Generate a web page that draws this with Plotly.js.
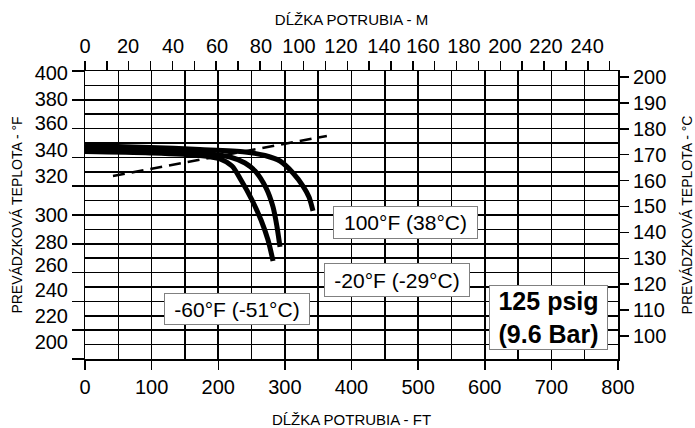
<!DOCTYPE html>
<html>
<head>
<meta charset="utf-8">
<script src="https://cdn.plot.ly/plotly-3.0.1.min.js"></script>
<style>html,body{margin:0;padding:0;background:#fff;}#chart{width:695px;height:428px;}</style>
</head>
<body>
<div id="chart"></div>
<script>
// ---- data (pipe length in ft, operating temperature in °F) ----
const curve100F_ft = [0, 97.6, 172.6, 240.2, 270.2, 292.7, 312.2, 327.2, 336.2, 342.2];
const curve100F_T  = [348.3, 346.9, 345.5, 343.8, 341.3, 337.5, 329.2, 320.1, 312.5, 302.8];
const curveM20F_ft = [0, 97.6, 172.6, 217.6, 240.2, 255.2, 271.7, 282.2, 288.2, 292.7];
const curveM20F_T  = [346.2, 344.8, 343.1, 340.3, 336.1, 330.6, 318.8, 305.6, 291.7, 277.8];
const curveM60F_ft = [0, 97.6, 172.6, 202.6, 220.6, 234.1, 250.7, 264.2, 274.7, 282.2];
const curveM60F_T  = [344.1, 343.1, 341.3, 338.9, 334.0, 324.3, 310.4, 296.5, 282.6, 268.1];
const dashed_ft = [42, 363];
const dashed_T  = [327.1, 354.9];

// ---- axes / tick labels ----
const ftGrid = [0, 50, 100, 150, 200, 250, 300, 350, 400, 450, 500, 550, 600, 650, 700, 750, 800];
const ftTicks = [0, 100, 200, 300, 400, 500, 600, 700, 800];
const fGrid = [200, 210, 220, 230, 240, 250, 260, 270, 280, 290, 300, 310, 320, 330, 340, 350, 360, 370, 380, 390, 400];
const fTicks = [200, 220, 240, 260, 280, 300, 320, 340, 360, 380, 400];
const fLabels = ['200', '220', '240', '260', '280', '300', '320', '340', '360', '380', '400'];
const fLabelPos = [211.8, 229.9, 247.6, 265.3, 281.25, 300, 327.1, 345.1, 363.9, 380.6, 398.6];
const cTicks = [100, 110, 120, 130, 140, 150, 160, 170, 180, 190, 200];
const mTicks = [0,10,20,30,40,50,60,70,80,90,100,110,120,130,140,150,160,170,180,190,200,210,220,230,240];
const mLabels = ['0','20','40','60','80','100','120','140','160','180','200','220','240'];
const mLabelPos = [0, 19.7, 40.3, 60.4, 80.5, 97.9, 117.1, 136.8, 154.6, 173.4, 192.1, 210.9, 229.7];

const curveLabels = ['100°F (38°C)', '-20°F (-29°C)', '-60°F (-51°C)'];
const pressureLabel = ['125 psig', '(9.6 Bar)'];

const FONT = 'Arial, "Liberation Sans", sans-serif';
const mLen = 800 / 3.28084;

const curveStyle = {color: 'black', width: 5, shape: 'spline', smoothing: 0.8};
const traces = [
  {x: curve100F_ft, y: curve100F_T, mode: 'lines', line: curveStyle, hoverinfo: 'skip'},
  {x: curveM20F_ft, y: curveM20F_T, mode: 'lines', line: curveStyle, hoverinfo: 'skip'},
  {x: curveM60F_ft, y: curveM60F_T, mode: 'lines', line: curveStyle, hoverinfo: 'skip'},
  {x: dashed_ft, y: dashed_T, mode: 'lines', line: {color: 'black', width: 2.5, dash: '12px,7px'}, hoverinfo: 'skip'},
  {x: [], y: [], xaxis: 'x2', yaxis: 'y', mode: 'lines', hoverinfo: 'skip'},
  {x: [], y: [], xaxis: 'x3', yaxis: 'y', mode: 'lines', hoverinfo: 'skip'},
  {x: [], y: [], xaxis: 'x4', yaxis: 'y', mode: 'lines', hoverinfo: 'skip'},
  {x: [], y: [], xaxis: 'x', yaxis: 'y2', mode: 'lines', hoverinfo: 'skip'},
  {x: [], y: [], xaxis: 'x', yaxis: 'y3', mode: 'lines', hoverinfo: 'skip'},
  {x: [], y: [], xaxis: 'x', yaxis: 'y4', mode: 'lines', hoverinfo: 'skip'}
];

const boxStyle = {showarrow: false, xref: 'x', yref: 'y', font: {family: FONT, size: 21, color: 'black'},
  bgcolor: 'white', bordercolor: '#808080', borderwidth: 1, borderpad: 1};

const plain = {showline: false, showgrid: false, zeroline: false, automargin: false};

const layout = {
  width: 695, height: 428,
  margin: {l: 85, r: 77, t: 71, b: 69, pad: 0},
  paper_bgcolor: 'white', plot_bgcolor: 'white',
  showlegend: false,
  font: {family: FONT, color: 'black', size: 20},
  // grid + frame
  xaxis: {
    range: [0, 800], tickmode: 'array', tickvals: ftGrid, showticklabels: false, ticks: '',
    showline: true, linecolor: 'black', linewidth: 1.5, mirror: true,
    showgrid: true, gridcolor: '#000000', gridwidth: 1.6, zeroline: false, automargin: false
  },
  yaxis: {
    range: [200, 400], tickmode: 'array', tickvals: fGrid, showticklabels: false, ticks: '',
    showline: true, linecolor: 'black', linewidth: 1.5, mirror: true,
    showgrid: true, gridcolor: '#000000', gridwidth: 1.6, zeroline: false, automargin: false
  },
  // bottom ft ticks and labels
  xaxis4: Object.assign({}, plain, {
    overlaying: 'x', side: 'bottom', anchor: 'y', range: [0, 800],
    tickmode: 'array', tickvals: ftTicks, ticktext: ftTicks.map(String),
    ticks: 'outside', ticklen: 10, tickwidth: 1.5, tickcolor: 'black', tickfont: {size: 20},
    title: {text: 'DĹŽKA POTRUBIA - FT', font: {size: 15}, standoff: 22}
  }),
  // left °F tick marks
  yaxis4: Object.assign({}, plain, {
    overlaying: 'y', side: 'left', anchor: 'x', range: [200, 400],
    tickmode: 'array', tickvals: fTicks, showticklabels: false,
    ticks: 'outside', ticklen: 12, tickwidth: 1.5, tickcolor: 'black'
  }),
  // left °F labels
  yaxis3: Object.assign({}, plain, {
    overlaying: 'y', side: 'left', anchor: 'x', range: [200, 400],
    tickmode: 'array', tickvals: fLabelPos, ticktext: fLabels,
    ticks: 'outside', ticklen: 12, tickcolor: 'rgba(0,0,0,0)', tickfont: {size: 20},
    title: {text: 'PREVÁDZKOVÁ TEPLOTA - °F', font: {size: 14}, standoff: 8}
  }),
  // right °C scale
  yaxis2: Object.assign({}, plain, {
    overlaying: 'y', side: 'right', anchor: 'x', range: [91.1, 202.3],
    tickmode: 'array', tickvals: cTicks, ticktext: cTicks.map(String),
    ticks: 'outside', ticklen: 10, tickwidth: 1.5, tickcolor: 'black', tickfont: {size: 20},
    title: {text: 'PREVÁDZKOVÁ TEPLOTA - °C', font: {size: 14}, standoff: 28}
  }),
  // top metre tick marks
  xaxis2: Object.assign({}, plain, {
    overlaying: 'x', side: 'top', anchor: 'y', range: [0, mLen],
    tickmode: 'array', tickvals: mTicks, showticklabels: false,
    ticks: 'outside', ticklen: 9, tickwidth: 1.5, tickcolor: 'black'
  }),
  // top metre labels
  xaxis3: Object.assign({}, plain, {
    overlaying: 'x', side: 'top', anchor: 'y', range: [0, mLen],
    tickmode: 'array', tickvals: mLabelPos, ticktext: mLabels,
    ticks: 'outside', ticklen: 9, tickcolor: 'rgba(0,0,0,0)', tickfont: {size: 20},
    title: {text: 'DĹŽKA POTRUBIA - M', font: {size: 15}, standoff: 5}
  }),
  annotations: [
    Object.assign({}, boxStyle, {x: 481.0, y: 294.8, text: curveLabels[0], width: 141, height: 29}),
    Object.assign({}, boxStyle, {x: 468.3, y: 254.9, text: curveLabels[1], width: 142, height: 30}),
    Object.assign({}, boxStyle, {x: 228.1, y: 234.7, text: curveLabels[2], width: 142, height: 28}),
    Object.assign({}, boxStyle, {x: 695.7, y: 228.8, width: 115, height: 61,
      text: '<b>' + pressureLabel[0] + '<br>' + pressureLabel[1] + '</b>',
      font: {family: FONT, size: 25, color: 'black'}})
  ]
};

Plotly.newPlot('chart', traces, layout, {staticPlot: true, displayModeBar: false});
</script>
</body>
</html>
